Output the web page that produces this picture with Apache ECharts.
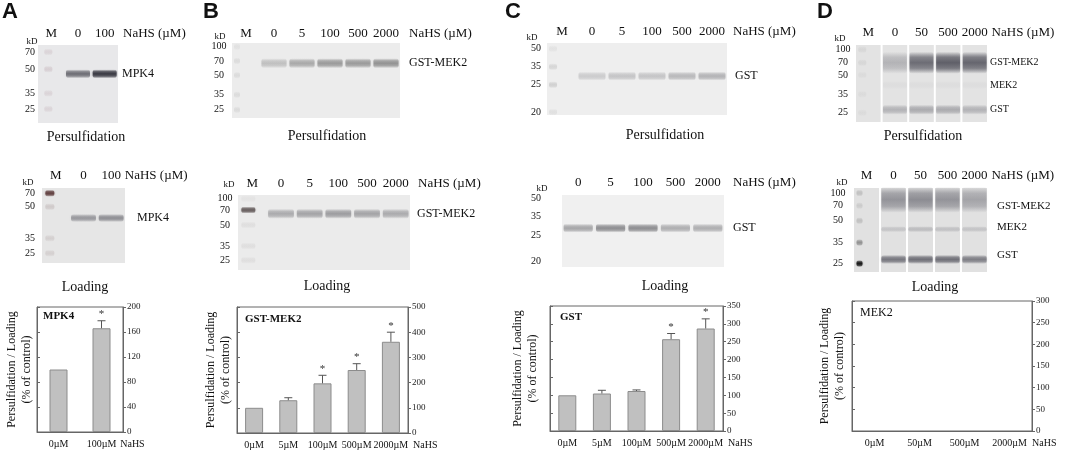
<!DOCTYPE html>
<html>
<head>
<meta charset="utf-8">
<title>NaHS persulfidation</title>
<script src="https://cdn.jsdelivr.net/npm/echarts@6/dist/echarts.min.js"></script>
<style>
  html, body { margin: 0; padding: 0; background: #fff; }
  #main { width: 1065px; height: 454px; }
</style>
</head>
<body>
<div id="main"></div>
<script>
var SERIF = '"Liberation Serif", "DejaVu Serif", serif';
var SANS = '"Liberation Sans", Arial, sans-serif';

// ---------- gels: lanes, marker sizes, mobility ----------
var lanesA = ['M', '0', '100'];
var lanesB = ['M', '0', '5', '100', '500', '2000'];
var lanesC = ['M', '0', '5', '100', '500', '2000'];
var lanesCLoad = ['0', '5', '100', '500', '2000'];
var lanesD = ['M', '0', '50', '500', '2000'];

var kdA = ['70', '50', '35', '25'];
var kdB = ['100', '70', '50', '35', '25'];
var kdC = ['50', '35', '25', '20'];
var kdD = ['100', '70', '50', '35', '25'];

// relative mobility, 0 = top of the gel, 1 = bottom
var rfKdAPers = [0.09, 0.31, 0.62, 0.82];
var rfKdALoad = [0.07, 0.25, 0.67, 0.87];
var rfKdBPers = [0.05, 0.24, 0.43, 0.69, 0.89];
var rfKdBLoad = [0.05, 0.20, 0.40, 0.68, 0.87];
var rfKdCPers = [0.08, 0.33, 0.58, 0.96];
var rfKdCLoad = [0.04, 0.29, 0.56, 0.92];
var rfKdDPers = [0.06, 0.23, 0.39, 0.64, 0.88];
var rfKdDLoad = [0.06, 0.21, 0.39, 0.65, 0.90];

// marker lane intensity at each kD
var markAPers = [0.2, 0.25, 0.2, 0.2];
var markALoad = [0.9, 0.15, 0.12, 0.12];
var markBPers = [0.12, 0.18, 0.18, 0.18, 0.18];
var markBLoad = [0.05, 0.85, 0.08, 0.08, 0.08];
var markCPers = [0.12, 0.25, 0.3, 0.15];
var markDPers = [0.15, 0.15, 0.1, 0.1, 0.1];
var markDLoad = [0.15, 0.1, 0.15, 0.35, 0.95];

// band mobility (pers, load) and band intensity per lane
var rfMpk4 = [0.37, 0.40];
var rfGstMek2B = [0.27, 0.25];
var rfGstC = [0.46, 0.46];
var rfDFusion = [0.23, 0.14];
var rfDMek2 = [0.52, 0.49];
var rfDGst = [0.84, 0.85];

var mpk4Pers = [0, 0.6, 0.9];
var mpk4Load = [0, 0.45, 0.5];
var gstMek2Pers = [0, 0.3, 0.45, 0.55, 0.55, 0.6];
var gstMek2Load = [0, 0.45, 0.5, 0.55, 0.5, 0.45];
var gstPers = [0, 0.25, 0.3, 0.3, 0.38, 0.42];
var gstLoad = [0.45, 0.6, 0.6, 0.4, 0.4];
var dFusionPers = [0, 0.3, 0.75, 0.85, 0.8];
var dMek2Pers = [0, 0.04, 0.04, 0.04, 0.04];
var dGstPers = [0, 0.3, 0.35, 0.35, 0.3];
var dFusionLoad = [0, 0.5, 0.55, 0.5, 0.4];
var dMek2Load = [0, 0.2, 0.25, 0.22, 0.2];
var dGstLoad = [0, 0.7, 0.75, 0.75, 0.65];

// ---------- quantification ----------
var catsA = ['0µM', '100µM'];
var valsA = [100, 166];
var errA = [0, 12];
var sigA = [false, true];

var catsB = ['0µM', '5µM', '100µM', '500µM', '2000µM'];
var valsB = [100, 130, 197, 250, 362];
var errB = [0, 10, 32, 25, 38];
var sigB = [false, false, true, true, true];

var catsC = ['0µM', '5µM', '100µM', '500µM', '2000µM'];
var valsC = [100, 105, 112, 257, 287];
var errC = [0, 9, 3, 16, 27];
var sigC = [false, false, false, true, true];

var catsD = ['0µM', '50µM', '500µM', '2000µM'];

var grids = [], xAxes = [], yAxes = [], series = [], graphics = [];

function rgba(c, a) {
  return 'rgba(' + c[0] + ',' + c[1] + ',' + c[2] + ',' + a + ')';
}

function softFill(c, s) {
  return new echarts.graphic.LinearGradient(0, 0, 0, 1, [
    { offset: 0, color: rgba(c, 0) },
    { offset: 0.25, color: rgba(c, s * 0.75) },
    { offset: 0.5, color: rgba(c, s) },
    { offset: 0.75, color: rgba(c, s * 0.75) },
    { offset: 1, color: rgba(c, 0) }]);
}

function addBlot(box, lanes, kd, kdRf, marks, bands, o) {
  var gi = grids.length;
  var yi = yAxes.length;
  grids.push({
    left: box[0], top: box[1], width: box[2], height: box[3],
    show: true, borderWidth: 0,
    backgroundColor: o.gaps ? 'transparent' : o.bg
  });
  xAxes.push({
    gridIndex: gi, type: 'category', data: lanes, position: 'top',
    axisLine: { show: false }, axisTick: { show: false },
    axisLabel: { interval: 0, margin: o.laneMargin, fontFamily: SERIF, fontSize: 13, color: '#111' },
    name: 'NaHS (µM)', nameLocation: 'end', nameGap: o.nameGap,
    nameTextStyle: {
      fontFamily: SERIF, fontSize: 13, color: '#111',
      align: 'left', verticalAlign: 'bottom', padding: [0, 0, o.laneMargin, 0]
    }
  });
  yAxes.push({ gridIndex: gi, type: 'value', inverse: true, min: 0, max: 1, show: false });

  var items = [];
  if (o.gaps) {
    lanes.forEach(function (l, li) { items.push({ kind: 'bg', lane: li, rf: 0 }); });
  }
  kd.forEach(function (t, i) {
    if (marks && marks[i] > 0) items.push({ kind: 'marker', lane: 0, rf: kdRf[i], s: marks[i] });
  });
  bands.forEach(function (b) {
    b.values.forEach(function (s, li) {
      if (s > 0) items.push({ kind: 'band', lane: li, rf: b.rf, s: s, h: b.h || o.bandH });
    });
  });
  kd.forEach(function (t, i) {
    items.push({ kind: 'kd', lane: 0, rf: kdRf[i], text: t });
  });
  items.push({ kind: 'kdHead', lane: 0, rf: 0, text: 'kD' });
  bands.forEach(function (b) {
    items.push({ kind: 'label', lane: lanes.length - 1, rf: b.rf + (b.dy || 0), text: b.name });
  });

  series.push({
    type: 'custom', xAxisIndex: gi, yAxisIndex: yi, silent: true, clip: false,
    data: items.map(function (it) { return [it.lane, it.rf]; }),
    renderItem: function (params, api) {
      var it = items[params.dataIndex];
      var cs = params.coordSys;
      var p = api.coord([it.lane, it.rf]);
      var bw = api.size([1, 0])[0];
      var w, h;
      if (it.kind === 'bg') {
        return { type: 'rect', shape: { x: p[0] - bw / 2 + 1, y: cs.y, width: bw - 2, height: cs.height },
          style: { fill: o.bg } };
      }
      if (it.kind === 'marker') {
        w = o.markerW; h = 7;
        return { type: 'rect', shape: { x: p[0] - w / 2 + (o.markerDx || 0), y: p[1] - h / 2, width: w, height: h, r: 3 },
          style: { fill: softFill(o.markerColor, it.s), shadowBlur: 2, shadowColor: rgba(o.markerColor, it.s * 0.5) } };
      }
      if (it.kind === 'band') {
        w = bw * 0.9; h = it.h;
        return { type: 'rect', shape: { x: p[0] - w / 2, y: p[1] - h / 2, width: w, height: h, r: 3 },
          style: { fill: softFill(o.color, it.s), shadowBlur: 3, shadowColor: rgba(o.color, it.s * 0.4) } };
      }
      if (it.kind === 'kd') {
        return { type: 'text', style: { text: it.text, x: cs.x - o.kdGap, y: p[1],
          align: 'center', verticalAlign: 'middle', fontFamily: SERIF, fontSize: 10, fill: '#111' } };
      }
      if (it.kind === 'kdHead') {
        return { type: 'text', style: { text: it.text, x: cs.x - o.kdGap + o.kdHead[0], y: cs.y + o.kdHead[1],
          align: 'center', verticalAlign: 'middle', fontFamily: SERIF, fontSize: 9, fill: '#111' } };
      }
      return { type: 'text', style: { text: it.text, x: cs.x + cs.width + o.labelGap, y: p[1],
        align: 'left', verticalAlign: 'middle', fontFamily: SERIF, fontSize: o.labelSize, fill: '#111' } };
    }
  });
}

function addBars(box, cats, vals, errs, sig, yMax, yStep, o) {
  var gi = grids.length;
  var yi = yAxes.length;
  grids.push({
    left: box[0], top: box[1], width: box[2], height: box[3],
    show: true, borderColor: '#666', borderWidth: 1, backgroundColor: 'transparent'
  });
  xAxes.push({
    gridIndex: gi, type: 'category', data: cats, position: 'bottom',
    axisLine: { lineStyle: { color: '#666' } },
    axisTick: { alignWithLabel: true, length: 3, lineStyle: { color: '#666' } },
    axisLabel: { interval: 0, margin: 7, fontFamily: SERIF, fontSize: 10, color: '#111' },
    name: 'NaHS', nameLocation: 'end', nameGap: o.nameGap,
    nameTextStyle: { fontFamily: SERIF, fontSize: 10, color: '#111', align: 'left', verticalAlign: 'top', padding: [7, 0, 0, 0] }
  });
  yAxes.push({
    gridIndex: gi, type: 'value', position: 'left', min: 0, max: yMax, interval: yStep,
    axisLine: { show: true, lineStyle: { color: '#666' } },
    axisTick: { show: true, inside: true, length: 3, lineStyle: { color: '#666' } },
    axisLabel: { show: false }, splitLine: { show: false },
    name: 'Persulfidation / Loading\n(% of control)', nameLocation: 'middle', nameGap: o.yNameGap,
    nameTextStyle: { fontFamily: SERIF, fontSize: 12, color: '#111', lineHeight: 15 }
  });
  yAxes.push({
    gridIndex: gi, type: 'value', position: 'right', min: 0, max: yMax, interval: yStep,
    axisLine: { show: true, lineStyle: { color: '#666' } },
    axisTick: { show: true, length: 3, lineStyle: { color: '#666' } },
    axisLabel: { margin: 4, fontFamily: SERIF, fontSize: 9, color: '#222' },
    splitLine: { show: false }
  });
  series.push({
    type: 'bar', xAxisIndex: gi, yAxisIndex: yi + 1, data: vals, barWidth: o.barW, silent: true,
    itemStyle: { color: '#c0c0c0', borderColor: '#8c8c8c', borderWidth: 1 }
  });
  if (!vals.length) return;
  series.push({
    type: 'custom', xAxisIndex: gi, yAxisIndex: yi + 1, silent: true, clip: false, z: 3,
    data: vals.map(function (v, i) { return [i, v + errs[i]]; }),
    renderItem: function (params, api) {
      var i = params.dataIndex;
      var base = api.coord([i, vals[i]]);
      var top = api.coord([i, vals[i] + errs[i]]);
      var ch = [];
      if (errs[i] > 0) {
        ch.push({ type: 'line', shape: { x1: base[0], y1: base[1], x2: top[0], y2: top[1] },
          style: { stroke: '#555', lineWidth: 1 } });
        ch.push({ type: 'line', shape: { x1: top[0] - 4, y1: top[1], x2: top[0] + 4, y2: top[1] },
          style: { stroke: '#555', lineWidth: 1 } });
      }
      if (sig[i]) {
        ch.push({ type: 'text', style: { text: '*', x: top[0], y: top[1] - 1, align: 'center',
          verticalAlign: 'bottom', fontFamily: SERIF, fontSize: 11, fill: '#333' } });
      }
      return { type: 'group', children: ch };
    }
  });
}

// ---- A ----
addBlot([38, 45, 80, 78], lanesA, kdA, rfKdAPers, markAPers,
  [{ name: 'MPK4', rf: rfMpk4[0], values: mpk4Pers }],
  { bg: '#e8e8ea', color: [45, 45, 55], bandH: 9, laneMargin: 5, nameGap: 5, kdGap: 8, kdHead: [2, -3],
    labelGap: 4, labelSize: 12, markerW: 8, markerColor: [170, 140, 150], markerDx: -3 });
addBlot([42, 188, 83, 75], lanesA, kdA, rfKdALoad, markALoad,
  [{ name: 'MPK4', rf: rfMpk4[1], values: mpk4Load }],
  { bg: '#e6e6e6', color: [70, 70, 80], bandH: 8, laneMargin: 6, nameGap: -2, kdGap: 12, kdHead: [-2, -5],
    labelGap: 12, labelSize: 12, markerW: 9, markerColor: [90, 55, 55], markerDx: -6 });
addBars([37, 307, 86, 125], catsA, valsA, errA, sigA, 200, 40, { nameGap: -6, yNameGap: 3, barW: 18 });

// ---- B ----
addBlot([232, 43, 168, 75], lanesB, kdB, rfKdBPers, markBPers,
  [{ name: 'GST-MEK2', rf: rfGstMek2B[0], values: gstMek2Pers }],
  { bg: '#ececec', color: [100, 100, 100], bandH: 10, laneMargin: 3, nameGap: 9, kdGap: 13, kdHead: [1, -6],
    labelGap: 9, labelSize: 12, markerW: 6, markerColor: [150, 150, 150], markerDx: -9 });
addBlot([238, 195, 172, 75], lanesB, kdB, rfKdBLoad, markBLoad,
  [{ name: 'GST-MEK2', rf: rfGstMek2B[1], values: gstMek2Load }],
  { bg: '#ebebeb', color: [105, 105, 110], bandH: 10, laneMargin: 5, nameGap: 8, kdGap: 13, kdHead: [4, -10],
    labelGap: 7, labelSize: 12, markerW: 14, markerColor: [90, 80, 80], markerDx: -4 });
addBars([237, 307, 171, 126], catsB, valsB, errB, sigB, 500, 100, { nameGap: 5, yNameGap: 4, barW: 18 });

// ---- C ----
addBlot([547, 43, 180, 72], lanesC, kdC, rfKdCPers, markCPers,
  [{ name: 'GST', rf: rfGstC[0], values: gstPers }],
  { bg: '#eeeeee', color: [110, 110, 115], bandH: 9, laneMargin: 5, nameGap: 6, kdGap: 11, kdHead: [-4, -5],
    labelGap: 8, labelSize: 12, markerW: 8, markerColor: [150, 150, 150], markerDx: -9 });
addBlot([562, 195, 162, 72], lanesCLoad, kdC, rfKdCLoad, null,
  [{ name: 'GST', rf: rfGstC[1], values: gstLoad }],
  { bg: '#f0f0f0', color: [90, 90, 95], bandH: 9, laneMargin: 6, nameGap: 9, kdGap: 26, kdHead: [6, -6],
    labelGap: 9, labelSize: 12, markerW: 8, markerColor: [150, 150, 150] });
addBars([550, 306, 173, 125], catsC, valsC, errC, sigC, 350, 50, { nameGap: 5, yNameGap: 10, barW: 18 });

// ---- D ----
addBlot([855, 45, 133, 77], lanesD, kdD, rfKdDPers, markDPers,
  [{ name: 'GST-MEK2', rf: rfDFusion[0], values: dFusionPers, h: 22 },
   { name: 'MEK2', rf: rfDMek2[0], values: dMek2Pers },
   { name: 'GST', rf: rfDGst[0], values: dGstPers, h: 10 }],
  { gaps: true, bg: '#e3e3e3', color: [80, 80, 90], bandH: 8, laneMargin: 6, nameGap: 0, kdGap: 12, kdHead: [-3, -6],
    labelGap: 2, labelSize: 10, markerW: 8, markerColor: [150, 150, 150], markerDx: -6 });
addBlot([853, 188, 135, 84], lanesD, kdD, rfKdDLoad, markDLoad,
  [{ name: 'GST-MEK2', rf: rfDFusion[1], values: dFusionLoad, h: 26, dy: 0.07 },
   { name: 'MEK2', rf: rfDMek2[1], values: dMek2Load, h: 6, dy: -0.03 },
   { name: 'GST', rf: rfDGst[1], values: dGstLoad, h: 9, dy: -0.05 }],
  { gaps: true, bg: '#e1e1e1', color: [85, 85, 95], bandH: 8, laneMargin: 6, nameGap: 0, kdGap: 15, kdHead: [4, -5],
    labelGap: 9, labelSize: 11, markerW: 6, markerColor: [20, 20, 20], markerDx: -7 });
addBars([852, 301, 180, 130], catsD, [], [], [], 300, 50, { nameGap: 0, yNameGap: 5, barW: 18 });

// ---- letters, gel captions, chart labels ----
function txt(t, x, y, size, font, weight, align) {
  graphics.push({ type: 'text', x: x, y: y, silent: true,
    style: { text: t, fontFamily: font, fontSize: size, fontWeight: weight || 'normal',
      fill: '#111', align: align || 'left', verticalAlign: 'middle' } });
}
txt('A', 2, 12, 22, SANS, 'bold');
txt('B', 203, 12, 22, SANS, 'bold');
txt('C', 505, 12, 22, SANS, 'bold');
txt('D', 817, 12, 22, SANS, 'bold');

txt('Persulfidation', 86, 137, 14, SERIF, 'normal', 'center');
txt('Persulfidation', 327, 136, 14, SERIF, 'normal', 'center');
txt('Persulfidation', 665, 135, 14, SERIF, 'normal', 'center');
txt('Persulfidation', 923, 136, 14, SERIF, 'normal', 'center');
txt('Loading', 85, 287, 14, SERIF, 'normal', 'center');
txt('Loading', 327, 286, 14, SERIF, 'normal', 'center');
txt('Loading', 665, 286, 14, SERIF, 'normal', 'center');
txt('Loading', 935, 287, 14, SERIF, 'normal', 'center');

txt('MPK4', 43, 316, 11, SERIF, 'bold');
txt('GST-MEK2', 245, 319, 11, SERIF, 'bold');
txt('GST', 560, 317, 11, SERIF, 'bold');
txt('MEK2', 860, 313, 12, SERIF, 'normal');

var chart = echarts.init(document.getElementById('main'), null, { renderer: 'canvas' });
chart.setOption({
  animation: false,
  backgroundColor: '#fff',
  grid: grids,
  xAxis: xAxes,
  yAxis: yAxes,
  series: series,
  graphic: graphics
});
</script>
</body>
</html>
